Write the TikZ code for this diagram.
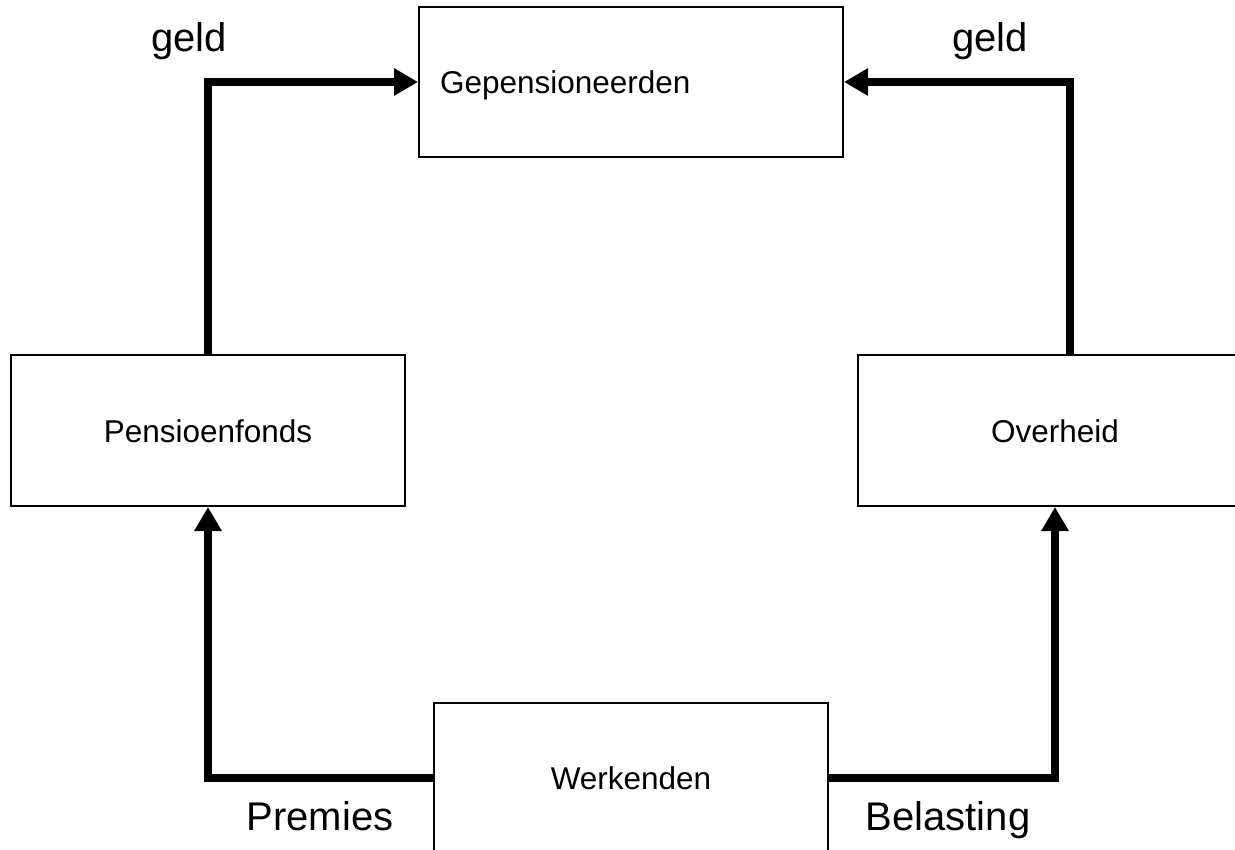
\documentclass[tikz,border=0pt]{standalone}
\usepackage{fontspec}
\setmainfont{Liberation Sans}
\usetikzlibrary{arrows.meta,calc}
\begin{document}
\begin{tikzpicture}[x=0.5pt,y=-0.5pt,
  box/.style={draw,line width=1pt,minimum width=197pt,minimum height=75.5pt,inner sep=0pt,
    font=\fontsize{15.75}{18}\selectfont,text height=11.5pt,text depth=0pt},
  flow/.style={line width=4.2pt,line join=miter,-{Triangle[length=12pt,width=13pt]}},
  lbl/.style={font=\fontsize{20}{24}\selectfont,anchor=base}]
\useasboundingbox (0,0) rectangle (1235,850);
\clip (0,0) rectangle (1235,850);
\fill[white] (0,0) rectangle (1235,850);
% boxes
\node[box,minimum width=212pt,minimum height=75pt,inner xsep=10.5pt,text width=191pt,align=left] (gep) at (631,82) {Gepensioneerden};
\node[box] (pf) at (208,430.5) {Pensioenfonds};
\node[box] (ov) at (1055,430.5) {Overheid};
\node[box,minimum height=75pt] (wk) at (631,778) {Werkenden};
% connectors
\draw[flow] (pf.north) |- (gep.west);
\draw[flow] ([xshift=7.5pt]ov.north) |- (gep.east);
\draw[flow] (wk.west) -| (pf.south);
\draw[flow] (wk.east) -| (ov.south);
% labels
\node[lbl] (g1) at (189,52) {geld};
\node[lbl] (g2) at (990,52) {geld};
\node[lbl] (pr) at (320,830) {Premies};
\node[lbl] (be) at (948,830) {Belasting};
\end{tikzpicture}
\end{document}
